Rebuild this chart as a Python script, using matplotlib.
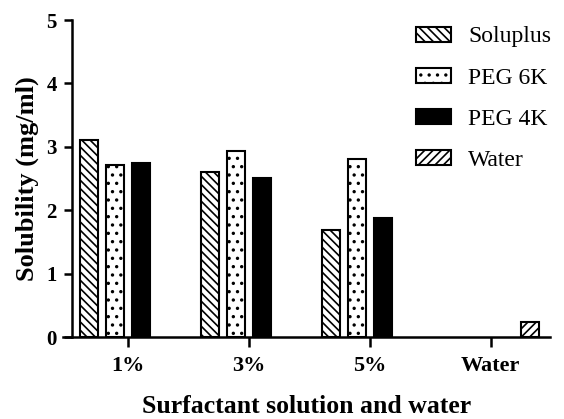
import numpy as np
import matplotlib
matplotlib.use("Agg")
import matplotlib.pyplot as plt
from matplotlib.patches import Patch

groups = ["1%", "3%", "5%", "Water"]
series = ["Soluplus", "PEG 6K", "PEG 4K", "Water"]
soluplus = [3.10, 2.61, 1.69, 0]
peg6k = [2.71, 2.93, 2.81, 0]
peg4k = [2.74, 2.51, 1.87, 0]
water = [0, 0, 0, 0.24]

plt.rcParams['font.family'] = ['Liberation Serif', 'DejaVu Serif']
plt.rcParams['hatch.linewidth'] = 1.2

fig = plt.figure(figsize=(5.64, 4.19), dpi=100)
ax = fig.add_axes([63 / 564, 1 - 337 / 419, (550 - 63) / 564, (337 - 20) / 419])

x = np.arange(len(groups))
step = 0.215
width = 0.145
styles = [
    dict(facecolor="white", hatch="\\\\\\\\"),
    dict(facecolor="white", hatch=".."),
    dict(facecolor="black", hatch=None),
    dict(facecolor="white", hatch="////"),
]
data = [soluplus, peg6k, peg4k, water]
handles = []
for i, (vals, name, st) in enumerate(zip(data, series, styles)):
    bars = ax.bar(x + (i - 1.5) * step, vals, width,
                  edgecolor="black", linewidth=1.5, **st)
    # empty groups: no outline on the axis
    for b, v in zip(bars, vals):
        if v == 0:
            b.set_visible(False)
    handles.append(Patch(edgecolor="black", linewidth=1.5, label=name, **st))

ax.set_xlim(-0.537, 3.49)
ax.set_ylim(0, 5)
ax.spines['left'].set_position(('data', -0.463))
ax.spines['top'].set_visible(False)
ax.spines['right'].set_visible(False)
for s in ['left', 'bottom']:
    ax.spines[s].set_linewidth(1.8)

ax.set_xticks(x)
ax.set_xticklabels(groups, fontsize=16, fontweight="bold")
ax.set_yticks([0, 1, 2, 3, 4, 5])
ax.set_yticklabels(["0", "1", "2", "3", "4", "5"], fontsize=15, fontweight="bold")
ax.tick_params(axis='x', length=7, width=1.8, pad=7)
ax.tick_params(axis='y', length=6, width=1.8, pad=5)

ax.set_xlabel("Surfactant solution and water", fontsize=18.5, fontweight="bold", labelpad=13)
ax.set_ylabel("Solubility (mg/ml)", fontsize=19, fontweight="bold", labelpad=5)

fig.legend(handles=handles, loc="upper left", bbox_to_anchor=(407 / 564, 1 - 17 / 419),
           frameon=False, fontsize=17, handlelength=1.45, handleheight=0.6,
           handletextpad=0.75, labelspacing=0.85, borderaxespad=0)

fig.savefig("out.png", dpi=100)
